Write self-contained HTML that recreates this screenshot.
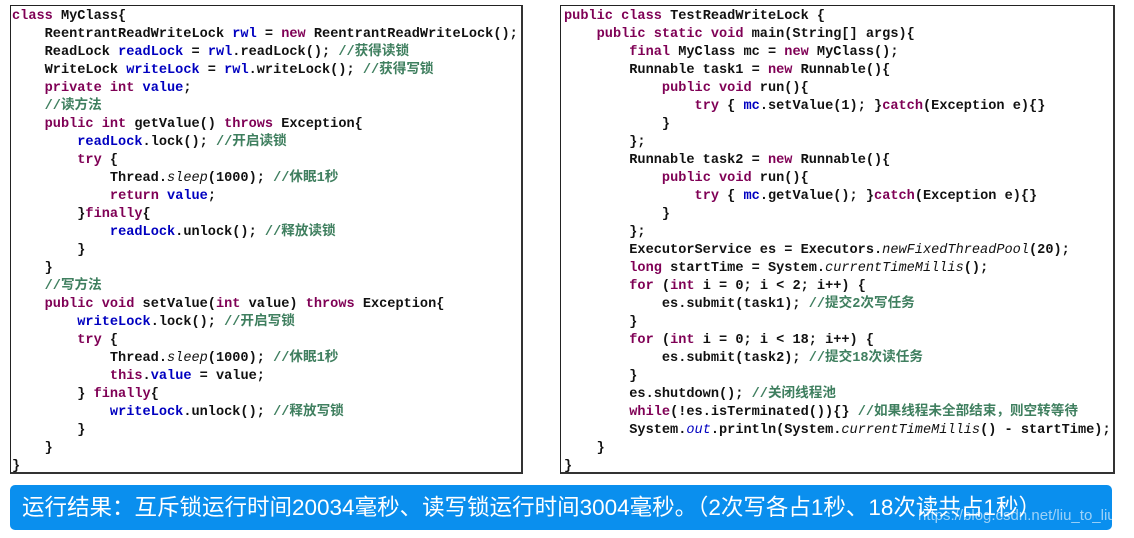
<!DOCTYPE html>
<html><head><meta charset="utf-8"><style>
body{margin:0;width:1134px;height:538px;background:#fff;overflow:hidden;position:relative}
.box{position:absolute;top:5px;height:469px;border:1px solid #222;border-bottom:2px solid #333;border-right:2px solid #333;box-sizing:border-box;background:#fff}
pre{margin:0;position:absolute;top:8px;font-family:"Liberation Mono","Noto Sans CJK SC",monospace;font-size:13.6px;line-height:18px;font-weight:bold;color:#111}
.k{color:#7f0055}.f{color:#0000c0}.c{color:#3f7f5f}.i{font-style:italic;font-weight:normal}
.bar{position:absolute;left:10px;top:485px;width:1102px;height:45px;background:#0a8fee;border-radius:5px;color:#fff;font-family:"Liberation Sans","Noto Sans CJK SC",sans-serif;font-size:22.5px;line-height:45px;padding-left:12px;box-sizing:border-box;white-space:nowrap;overflow:hidden}
.wm{position:absolute;left:918px;top:507px;color:rgba(255,255,255,.6);font-family:"Liberation Sans",sans-serif;font-size:15px}
</style></head><body>
<div class="box" style="left:10px;width:513px"></div>
<pre style="left:12px"><span class="k">class</span> MyClass{
    ReentrantReadWriteLock <span class="f">rwl</span> = <span class="k">new</span> ReentrantReadWriteLock();
    ReadLock <span class="f">readLock</span> = <span class="f">rwl</span>.readLock(); <span class="c">//获得读锁</span>
    WriteLock <span class="f">writeLock</span> = <span class="f">rwl</span>.writeLock(); <span class="c">//获得写锁</span>
    <span class="k">private int</span> <span class="f">value</span>;
    <span class="c">//读方法</span>
    <span class="k">public int</span> getValue() <span class="k">throws</span> Exception{
        <span class="f">readLock</span>.lock(); <span class="c">//开启读锁</span>
        <span class="k">try</span> {
            Thread.<span class="i">sleep</span>(1000); <span class="c">//休眠1秒</span>
            <span class="k">return</span> <span class="f">value</span>;
        }<span class="k">finally</span>{
            <span class="f">readLock</span>.unlock(); <span class="c">//释放读锁</span>
        }
    }
    <span class="c">//写方法</span>
    <span class="k">public void</span> setValue(<span class="k">int</span> value) <span class="k">throws</span> Exception{
        <span class="f">writeLock</span>.lock(); <span class="c">//开启写锁</span>
        <span class="k">try</span> {
            Thread.<span class="i">sleep</span>(1000); <span class="c">//休眠1秒</span>
            <span class="k">this</span>.<span class="f">value</span> = value;
        } <span class="k">finally</span>{
            <span class="f">writeLock</span>.unlock(); <span class="c">//释放写锁</span>
        }
    }
}</pre>
<div class="box" style="left:560px;width:555px"></div>
<pre style="left:564px"><span class="k">public class</span> TestReadWriteLock {
    <span class="k">public static void</span> main(String[] args){
        <span class="k">final</span> MyClass mc = <span class="k">new</span> MyClass();
        Runnable task1 = <span class="k">new</span> Runnable(){
            <span class="k">public void</span> run(){
                <span class="k">try</span> { <span class="f">mc</span>.setValue(1); }<span class="k">catch</span>(Exception e){}
            }
        };
        Runnable task2 = <span class="k">new</span> Runnable(){
            <span class="k">public void</span> run(){
                <span class="k">try</span> { <span class="f">mc</span>.getValue(); }<span class="k">catch</span>(Exception e){}
            }
        };
        ExecutorService es = Executors.<span class="i">newFixedThreadPool</span>(20);
        <span class="k">long</span> startTime = System.<span class="i">currentTimeMillis</span>();
        <span class="k">for</span> (<span class="k">int</span> i = 0; i &lt; 2; i++) {
            es.submit(task1); <span class="c">//提交2次写任务</span>
        }
        <span class="k">for</span> (<span class="k">int</span> i = 0; i &lt; 18; i++) {
            es.submit(task2); <span class="c">//提交18次读任务</span>
        }
        es.shutdown(); <span class="c">//关闭线程池</span>
        <span class="k">while</span>(!es.isTerminated()){} <span class="c">//如果线程未全部结束，则空转等待</span>
        System.<span class="f i">out</span>.println(System.<span class="i">currentTimeMillis</span>() - startTime);
    }
}</pre>
<div class="bar">运行结果：互斥锁运行时间20034毫秒、读写锁运行时间3004毫秒。（2次写各占1秒、18次读共占1秒）</div>
<div class="wm">https://blog.csdn.net/liu_to_liu</div>
</body></html>
